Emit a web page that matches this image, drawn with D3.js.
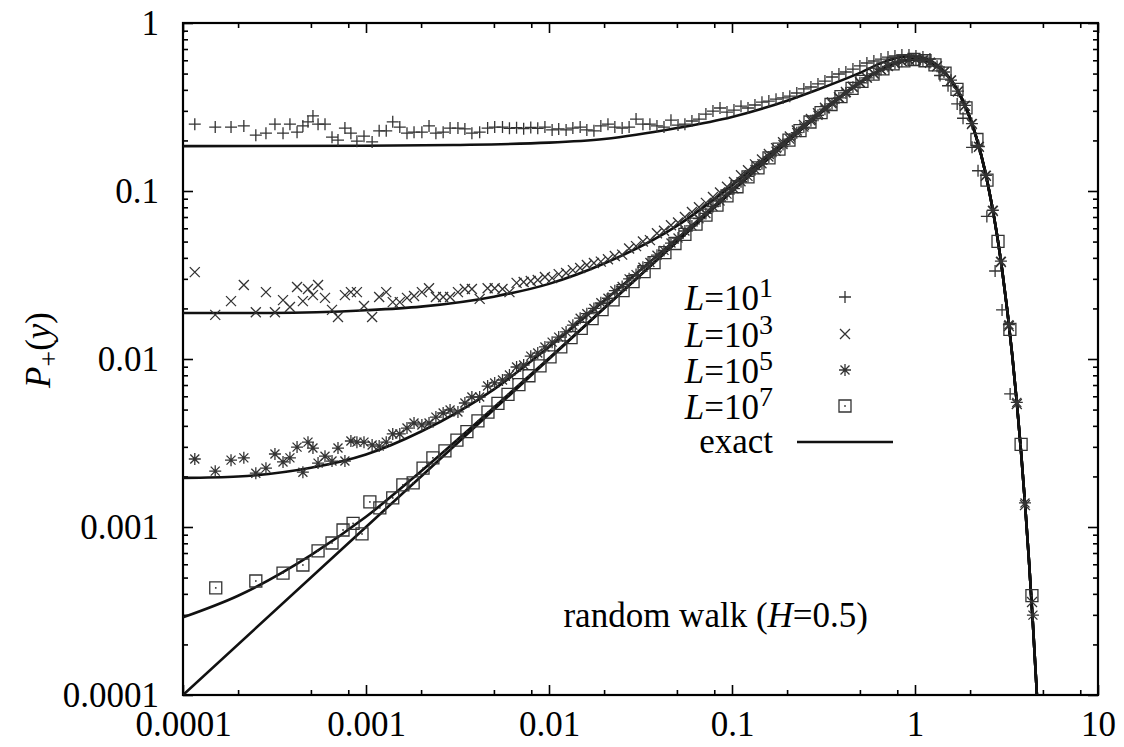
<!DOCTYPE html>
<html>
<head>
<meta charset="utf-8">
<script src="https://cdn.jsdelivr.net/npm/d3@7"></script>
<style>
body { margin: 0; background: #fff; }
</style>
</head>
<body>
<div id="chart"></div>
<script>
// axis ticks
var xTicks = [0.0001, 0.001, 0.01, 0.1, 1, 10];
var xTickLabels = ["0.0001", "0.001", "0.01", "0.1", "1", "10"];
var xMinor = [2e-4, 5e-4, 8e-4, 2e-3, 5e-3, 8e-3, 0.02, 0.05, 0.08, 0.2, 0.5, 0.8, 2, 5, 8];
var yTicks = [0.0001, 0.001, 0.01, 0.1, 1];
var yTickLabels = ["0.0001", "0.001", "0.01", "0.1", "1"];
var yMinor = [2e-4, 3e-4, 4e-4, 5e-4, 6e-4, 7e-4, 8e-4, 9e-4,
              2e-3, 3e-3, 4e-3, 5e-3, 6e-3, 7e-3, 8e-3, 9e-3,
              0.02, 0.03, 0.04, 0.05, 0.06, 0.07, 0.08, 0.09,
              0.2, 0.3, 0.4, 0.5, 0.6, 0.7, 0.8, 0.9];

// histogram bins shared by L=10^1, 10^3, 10^5
var xBins = [1.16e-4, 1.50e-4, 1.83e-4, 2.15e-4, 2.50e-4, 2.84e-4, 3.18e-4, 3.52e-4, 3.84e-4, 4.20e-4,
             4.52e-4, 4.82e-4, 5.13e-4, 5.47e-4, 5.97e-4, 6.52e-4, 7.03e-4, 7.67e-4, 8.27e-4, 8.92e-4,
             9.75e-4, 1.08e-3, 1.18e-3, 1.29e-3, 1.40e-3, 1.53e-3, 1.675e-3, 1.83e-3, 2.02e-3, 2.21e-3,
             2.41e-3, 2.64e-3, 2.88e-3, 3.18e-3, 3.47e-3, 3.79e-3, 4.18e-3, 4.62e-3, 5.05e-3, 5.57e-3,
             6.08e-3, 6.65e-3, 7.27e-3, 7.95e-3, 8.68e-3, 9.5e-3, 0.0104, 0.0113, 0.0124, 0.0135,
             0.0148, 0.0161, 0.0176, 0.0192, 0.0210, 0.0229, 0.0251, 0.0274, 0.0299, 0.0326,
             0.0356, 0.0389, 0.0425, 0.0464, 0.0507, 0.0553, 0.0604, 0.066, 0.072, 0.0787,
             0.086, 0.0939, 0.1025, 0.112, 0.1223, 0.1335, 0.1458, 0.159, 0.174, 0.190,
             0.207, 0.226, 0.247, 0.270, 0.295, 0.322, 0.352, 0.384, 0.419, 0.458,
             0.500, 0.546, 0.596, 0.652, 0.712, 0.777, 0.848, 0.927, 1.012, 1.105, 1.207];

var plusY = [0.250, 0.240, 0.240, 0.244, 0.215, 0.221, 0.250, 0.221, 0.250, 0.224,
             0.244, 0.258, 0.280, 0.250, 0.250, 0.209, 0.201, 0.237, 0.221, 0.198,
             0.212, 0.196, 0.228, 0.228, 0.258, 0.240, 0.221, 0.224, 0.224, 0.244,
             0.221, 0.224, 0.237, 0.237, 0.234, 0.221, 0.224, 0.237, 0.240, 0.240,
             0.236, 0.238, 0.235, 0.239, 0.236, 0.240, 0.231, 0.234, 0.231, 0.237,
             0.240, 0.231, 0.228, 0.244, 0.250, 0.240, 0.237, 0.240, 0.268, 0.250,
             0.250, 0.244, 0.240, 0.264, 0.247, 0.250, 0.261, 0.268, 0.287, 0.299,
             0.312, 0.295, 0.303, 0.320, 0.312, 0.325, 0.338, 0.343, 0.352, 0.358,
             0.367, 0.383, 0.405, 0.416, 0.434, 0.451, 0.477, 0.497, 0.511, 0.532,
             0.555, 0.578, 0.594, 0.610, 0.627, 0.636, 0.645, 0.645, 0.636, 0.627, 0.610];

var crossY = [0.0329, 0.0183, 0.0221, 0.0276, 0.0190, 0.0250, 0.0190, 0.0224, 0.0204, 0.0268,
              0.0221, 0.0261, 0.0240, 0.0276, 0.0231, 0.0196, 0.0178, 0.0240, 0.0250, 0.0250,
              0.0207, 0.0178, 0.0234, 0.0250, 0.0218, 0.0218, 0.0231, 0.0237, 0.0250, 0.0264,
              0.0234, 0.0234, 0.0234, 0.0250, 0.0261, 0.0261, 0.0228, 0.0264, 0.0264, 0.0261,
              0.0250, 0.0284, 0.0287, 0.0291, 0.0295, 0.0308, 0.0303, 0.0320, 0.0325, 0.0338,
              0.0348, 0.0363, 0.0373, 0.0380, 0.0392, 0.0410, 0.0418, 0.0455, 0.0470, 0.0500,
              0.0510, 0.0560, 0.0580, 0.0625, 0.0650, 0.0700, 0.0750, 0.0800, 0.0850, 0.0920,
              0.0980, 0.1060, 0.1130, 0.1240, 0.1330, 0.1440, 0.1540, 0.1660, 0.1800, 0.1950,
              0.2110, 0.2290, 0.2470, 0.2680, 0.2900, 0.3130, 0.3370, 0.3620, 0.3890, 0.4180,
              0.4460, 0.4730, 0.5010, 0.5290, 0.5550, 0.5770, 0.5930, 0.6030, 0.6060, 0.5990, 0.5800];

var starY = [0.00254, 0.00215, 0.00250, 0.00258, 0.00209, 0.00224, 0.00272, 0.00244, 0.00258, 0.00299,
             0.00212, 0.00320, 0.00295, 0.00240, 0.00264, 0.00247, 0.00295, 0.00247, 0.00325, 0.00320,
             0.00320, 0.00308, 0.00303, 0.00320, 0.00358, 0.00358, 0.00388, 0.00416, 0.00405, 0.00416,
             0.00451, 0.00477, 0.00497, 0.00484, 0.00547, 0.00594, 0.00594, 0.00690, 0.00720, 0.00750,
             0.00803, 0.00896, 0.00921, 0.0104, 0.01085, 0.0118, 0.0126, 0.0135, 0.0145, 0.0159,
             0.0175, 0.0186, 0.0200, 0.0216, 0.0230, 0.0255, 0.0270, 0.0300, 0.0318, 0.0352,
             0.0375, 0.0415, 0.0443, 0.0490, 0.0525, 0.0578, 0.0620, 0.0684, 0.0735, 0.0808,
             0.0872, 0.0958, 0.1032, 0.1135, 0.1222, 0.1340, 0.1452, 0.1595, 0.1725, 0.1890,
             0.2035, 0.2225, 0.2400, 0.2620, 0.2825, 0.3070, 0.3305, 0.3580, 0.3835, 0.4140,
             0.4410, 0.4715, 0.4985, 0.5285, 0.5525, 0.5760, 0.5915, 0.6040, 0.6060, 0.5995, 0.5820];

// points past the maximum, where the bins thin out
var plusTail = [[1.37, 0.487], [1.515, 0.423], [1.70, 0.330], [1.83, 0.271], [2.05, 0.182],
                [2.21, 0.132], [2.47, 0.0706], [2.74, 0.0334], [2.99, 0.0196], [3.31, 0.0062]];
var crossTail = [[1.32, 0.552], [1.44, 0.509], [1.573, 0.455], [1.717, 0.391], [1.875, 0.321],
                 [2.047, 0.250], [2.235, 0.183], [2.44, 0.123], [2.664, 0.0760], [2.948, 0.0378],
                 [3.26, 0.0157], [3.60, 0.00540], [3.99, 0.00135], [4.36, 0.000358]];
var starTail = [[1.32, 0.553], [1.44, 0.511], [1.573, 0.457], [1.717, 0.393], [1.875, 0.323],
                [2.047, 0.252], [2.235, 0.184], [2.44, 0.124], [2.664, 0.0768], [2.948, 0.0382],
                [3.26, 0.0160], [3.60, 0.00552], [3.99, 0.00139], [4.41, 0.000299]];

// L=10^7 has its own bins
var squarePts = [[1.51e-4, 4.34e-4], [2.5e-4, 4.77e-4], [3.52e-4, 5.32e-4], [4.52e-4, 5.94e-4], [5.47e-4, 7.2e-4],
                 [6.52e-4, 8.03e-4], [7.49e-4, 9.6e-4], [8.5e-4, 1.05e-3], [9.51e-4, 9.09e-4], [1.05e-3, 1.41e-3],
                 [1.19e-3, 1.30e-3], [1.40e-3, 1.49e-3], [1.59e-3, 1.78e-3], [1.81e-3, 1.83e-3], [2.05e-3, 2.24e-3],
                 [2.32e-3, 2.58e-3], [2.70e-3, 2.84e-3], [3.14e-3, 3.29e-3], [3.56e-3, 3.7e-3], [4.09e-3, 4.28e-3],
                 [4.64e-3, 4.83e-3], [5.26e-3, 5.45e-3], [5.97e-3, 6.15e-3], [6.85e-3, 7.03e-3], [7.77e-3, 7.95e-3],
                 [8.93e-3, 9.1e-3], [0.01013, 0.0103], [0.0116, 0.0118], [0.0132, 0.0134], [0.0150, 0.0152],
                 [0.0172, 0.0174], [0.0195, 0.0197], [0.0224, 0.0225], [0.0254, 0.0255], [0.0288, 0.0289],
                 [0.0331, 0.0331], [0.0375, 0.0375], [0.0430, 0.0430], [0.0488, 0.0487], [0.0553, 0.0552],
                 [0.0636, 0.0635], [0.0721, 0.0719], [0.0828, 0.0825], [0.0939, 0.0935], [0.1065, 0.106],
                 [0.1223, 0.1214], [0.1387, 0.1374], [0.1593, 0.1573], [0.1806, 0.1777], [0.2048, 0.2006],
                 [0.2353, 0.2289], [0.2668, 0.2575], [0.3067, 0.2925], [0.3476, 0.3272], [0.394, 0.3645],
                 [0.453, 0.4085], [0.513, 0.4497], [0.590, 0.4956], [0.668, 0.5336], [0.759, 0.5703],
                 [0.870, 0.5946], [0.987, 0.6064], [1.134, 0.5962], [1.286, 0.5626], [1.459, 0.5034],
                 [1.696, 0.4027], [1.90, 0.3126], [2.18, 0.2025], [2.474, 0.1160], [2.842, 0.0501],
                 [3.30, 0.0150], [3.80, 0.0031], [4.355, 0.00039]];

// exact curves (L=10^1, 10^3, 10^5, 10^7 and infinite L)
var exactL1 = [[1e-4, 0.185], [1e-3, 0.186], [3e-3, 0.188], [0.01, 0.194], [0.02, 0.204], [0.05, 0.237],
               [0.1, 0.276], [0.2, 0.345], [0.3, 0.405], [0.5, 0.505], [0.7, 0.595], [0.85, 0.628],
               [1.0, 0.632], [1.15, 0.612], [1.3, 0.57], [1.5, 0.49], [1.65, 0.424], [1.8, 0.356],
               [2.0, 0.271], [2.2, 0.196], [2.4, 0.135], [2.6, 0.0884], [2.8, 0.0556], [3.0, 0.0333],
               [3.2, 0.0191], [3.4, 0.0105], [3.6, 0.00552], [3.8, 0.00278], [4.0, 0.00134],
               [4.2, 0.00062], [4.4, 0.000275], [4.6, 0.000117], [4.8, 4.8e-5]];
var exactL3 = [[1e-4, 0.0188], [3e-4, 0.0188], [1e-3, 0.0195], [2e-3, 0.0205], [5e-3, 0.0235], [0.01, 0.028],
               [0.02, 0.037], [0.05, 0.062], [0.1, 0.108], [0.2, 0.203], [0.3, 0.292], [0.4, 0.372],
               [0.5, 0.443], [0.6, 0.502], [0.7, 0.548], [0.8, 0.581], [0.9, 0.600], [1.0, 0.607],
               [1.1, 0.601], [1.2, 0.584], [1.35, 0.543], [1.5, 0.487], [1.65, 0.424], [1.8, 0.356],
               [2.0, 0.271], [2.2, 0.196], [2.4, 0.135], [2.6, 0.0884], [2.8, 0.0556], [3.0, 0.0333],
               [3.2, 0.0191], [3.4, 0.0105], [3.6, 0.00552], [3.8, 0.00278], [4.0, 0.00134],
               [4.2, 0.00062], [4.4, 0.000275], [4.6, 0.000117], [4.8, 4.8e-5]];
var exactL5 = [[1e-4, 0.00196], [2e-4, 0.0020], [5e-4, 0.00225], [1e-3, 0.0027], [2e-3, 0.0037], [5e-3, 0.0066],
               [0.01, 0.0118], [0.02, 0.0222], [0.05, 0.052], [0.1, 0.1015], [0.2, 0.197], [0.3, 0.287],
               [0.4, 0.369], [0.5, 0.441], [0.6, 0.501], [0.7, 0.548], [0.8, 0.581], [0.9, 0.600],
               [1.0, 0.607], [1.1, 0.601], [1.2, 0.584], [1.35, 0.543], [1.5, 0.487], [1.65, 0.424],
               [1.8, 0.356], [2.0, 0.271], [2.2, 0.196], [2.4, 0.135], [2.6, 0.0884], [2.8, 0.0556],
               [3.0, 0.0333], [3.2, 0.0191], [3.4, 0.0105], [3.6, 0.00552], [3.8, 0.00278], [4.0, 0.00134],
               [4.2, 0.00062], [4.4, 0.000275], [4.6, 0.000117], [4.8, 4.8e-5]];
var exactL7 = [[1e-4, 2.9e-4], [2e-4, 3.9e-4], [5e-4, 6.8e-4], [1e-3, 1.15e-3], [2e-3, 2.15e-3], [5e-3, 5.15e-3],
               [0.01, 0.0101], [0.02, 0.0201], [0.05, 0.0499], [0.1, 0.0995], [0.2, 0.196], [0.3, 0.287],
               [0.4, 0.369], [0.5, 0.441], [0.6, 0.501], [0.7, 0.548], [0.8, 0.581], [0.9, 0.600],
               [1.0, 0.607], [1.1, 0.601], [1.2, 0.584], [1.35, 0.543], [1.5, 0.487], [1.65, 0.424],
               [1.8, 0.356], [2.0, 0.271], [2.2, 0.196], [2.4, 0.135], [2.6, 0.0884], [2.8, 0.0556],
               [3.0, 0.0333], [3.2, 0.0191], [3.4, 0.0105], [3.6, 0.00552], [3.8, 0.00278], [4.0, 0.00134],
               [4.2, 0.00062], [4.4, 0.000275], [4.6, 0.000117], [4.8, 4.8e-5]];
var exactInf = [[1e-4, 1e-4], [1e-3, 1e-3], [0.01, 0.01], [0.05, 0.0499], [0.1, 0.0995], [0.2, 0.196],
                [0.3, 0.287], [0.4, 0.369], [0.5, 0.441], [0.6, 0.501], [0.7, 0.548], [0.8, 0.581],
                [0.9, 0.600], [1.0, 0.607], [1.1, 0.601], [1.2, 0.584], [1.35, 0.543], [1.5, 0.487],
                [1.65, 0.424], [1.8, 0.356], [2.0, 0.271], [2.2, 0.196], [2.4, 0.135], [2.6, 0.0884],
                [2.8, 0.0556], [3.0, 0.0333], [3.2, 0.0191], [3.4, 0.0105], [3.6, 0.00552], [3.8, 0.00278],
                [4.0, 0.00134], [4.2, 0.00062], [4.4, 0.000275], [4.6, 0.000117], [4.8, 4.8e-5]];

var legendExp = ["1", "3", "5", "7"];

// ---------------------------------------------------------------
var width = 1124, height = 747;
var plot = {left: 183, right: 1098, top: 23, bottom: 695};
var serif = "'Liberation Serif'";
var fontSize = "35px";

var svg = d3.select("#chart").append("svg")
            .attr("width", width)
            .attr("height", height);

var x = d3.scaleLog().domain([1e-4, 10]).range([plot.left, plot.right]);
var y = d3.scaleLog().domain([1e-4, 1]).range([plot.bottom, plot.top]);

svg.append("clipPath").attr("id", "clip")
   .append("rect")
   .attr("x", plot.left).attr("y", plot.top)
   .attr("width", plot.right - plot.left)
   .attr("height", plot.bottom - plot.top);

// axes, ticks pointing inward on all four sides
function styleAxis(g) {
    g.attr("font-size", null).attr("font-family", null);
    g.select(".domain").remove();
    g.selectAll(".tick line").attr("stroke", "#000").attr("stroke-width", 1.6);
    g.selectAll(".tick text")
     .style("font-family", serif)
     .style("font-size", fontSize)
     .attr("fill", "#000");
}

svg.append("g").attr("transform", "translate(0," + plot.bottom + ")")
   .call(d3.axisBottom(x).tickValues(xTicks).tickFormat(function(d, i) { return xTickLabels[i]; })
         .tickSize(-10).tickPadding(16))
   .call(styleAxis);
svg.append("g").attr("transform", "translate(0," + plot.bottom + ")")
   .call(d3.axisBottom(x).tickValues(xMinor).tickFormat("").tickSize(-5))
   .call(styleAxis);
svg.append("g").attr("transform", "translate(0," + plot.top + ")")
   .call(d3.axisTop(x).tickValues(xTicks).tickFormat("").tickSize(-10))
   .call(styleAxis);
svg.append("g").attr("transform", "translate(0," + plot.top + ")")
   .call(d3.axisTop(x).tickValues(xMinor).tickFormat("").tickSize(-5))
   .call(styleAxis);

svg.append("g").attr("transform", "translate(" + plot.left + ",0)")
   .call(d3.axisLeft(y).tickValues(yTicks).tickFormat(function(d, i) { return yTickLabels[i]; })
         .tickSize(-10).tickPadding(24))
   .call(styleAxis);
svg.append("g").attr("transform", "translate(" + plot.left + ",0)")
   .call(d3.axisLeft(y).tickValues(yMinor).tickFormat("").tickSize(-5))
   .call(styleAxis);
svg.append("g").attr("transform", "translate(" + plot.right + ",0)")
   .call(d3.axisRight(y).tickValues(yTicks).tickFormat("").tickSize(-10))
   .call(styleAxis);
svg.append("g").attr("transform", "translate(" + plot.right + ",0)")
   .call(d3.axisRight(y).tickValues(yMinor).tickFormat("").tickSize(-5))
   .call(styleAxis);

svg.append("rect")
   .attr("x", plot.left).attr("y", plot.top)
   .attr("width", plot.right - plot.left)
   .attr("height", plot.bottom - plot.top)
   .attr("fill", "none").attr("stroke", "#000").attr("stroke-width", 2.2);

// curves
var line = d3.line()
             .x(function(d) { return x(d[0]); })
             .y(function(d) { return y(d[1]); })
             .curve(d3.curveMonotoneX);

var curves = svg.append("g").attr("clip-path", "url(#clip)");
[exactL1, exactL3, exactL5, exactL7, exactInf].forEach(function(c) {
    curves.append("path").datum(c)
          .attr("d", line)
          .attr("fill", "none")
          .attr("stroke", "#111")
          .attr("stroke-width", 2.6)
          .attr("stroke-linejoin", "round");
});

// marker shapes
var shapes = {
    plus: "M-6,0H6M0,-6V6",
    cross: "M-5,-5L5,5M-5,5L5,-5",
    star: "M-6,0H6M0,-6V6M-4.5,-4.5L4.5,4.5M-4.5,4.5L4.5,-4.5",
    square: "M-6,-6H6V6H-6Z"
};

function pairs(ys, tail) {
    var out = xBins.map(function(b, i) { return [b, ys[i]]; });
    return out.concat(tail);
}

var marks = svg.append("g");
function drawMarks(data, shape) {
    marks.append("g").selectAll("path")
         .data(data)
         .enter().append("path")
         .attr("transform", function(d) { return "translate(" + x(d[0]) + "," + y(d[1]) + ")"; })
         .attr("d", shapes[shape])
         .attr("fill", "none")
         .attr("stroke", "#333")
         .attr("stroke-width", 1.3);
    if (shape == "square") {
        marks.append("g").selectAll("rect")
             .data(data)
             .enter().append("rect")
             .attr("x", function(d) { return x(d[0]) - 0.8; })
             .attr("y", function(d) { return y(d[1]) - 0.8; })
             .attr("width", 1.6).attr("height", 1.6)
             .attr("fill", "#333");
    }
}
drawMarks(pairs(plusY, plusTail), "plus");
drawMarks(pairs(crossY, crossTail), "cross");
drawMarks(pairs(starY, starTail), "star");
drawMarks(squarePts, "square");

// legend
var legend = svg.append("g");
var rowY = [297, 334, 370, 406, 442];
var shapeOrder = ["plus", "cross", "star", "square"];
legendExp.forEach(function(e, i) {
    var t = legend.append("text")
                  .attr("x", 773).attr("y", rowY[i] + 13)
                  .attr("text-anchor", "end")
                  .style("font-family", serif)
                  .style("font-size", fontSize);
    t.append("tspan").style("font-style", "italic").text("L");
    t.append("tspan").text("=10");
    t.append("tspan").attr("dy", -13).style("font-size", "28px").text(e);

    legend.append("path")
          .attr("transform", "translate(845," + rowY[i] + ")")
          .attr("d", shapes[shapeOrder[i]])
          .attr("fill", "none").attr("stroke", "#333").attr("stroke-width", 1.3);
    if (shapeOrder[i] == "square") {
        legend.append("rect").attr("x", 844.2).attr("y", rowY[i] - 0.8)
              .attr("width", 1.6).attr("height", 1.6).attr("fill", "#333");
    }
});
legend.append("text")
      .attr("x", 773).attr("y", rowY[4] + 11)
      .attr("text-anchor", "end")
      .style("font-family", serif)
      .style("font-size", fontSize)
      .text("exact");
legend.append("line")
      .attr("x1", 797).attr("x2", 893)
      .attr("y1", rowY[4]).attr("y2", rowY[4])
      .attr("stroke", "#111").attr("stroke-width", 2.6);

// annotation
var note = svg.append("text")
              .attr("x", 868).attr("y", 627)
              .attr("text-anchor", "end")
              .style("font-family", serif)
              .style("font-size", fontSize);
note.append("tspan").text("random walk (");
note.append("tspan").style("font-style", "italic").text("H");
note.append("tspan").text("=0.5)");

// y axis title
var ylab = svg.append("text")
              .attr("transform", "translate(50,350) rotate(-90)")
              .attr("text-anchor", "middle")
              .style("font-family", serif)
              .style("font-size", fontSize);
ylab.append("tspan").style("font-style", "italic").text("P");
ylab.append("tspan").attr("dy", 8).style("font-size", "28px").text("+");
ylab.append("tspan").attr("dy", -8).text("(");
ylab.append("tspan").style("font-style", "italic").text("y");
ylab.append("tspan").text(")");
</script>
</body>
</html>
